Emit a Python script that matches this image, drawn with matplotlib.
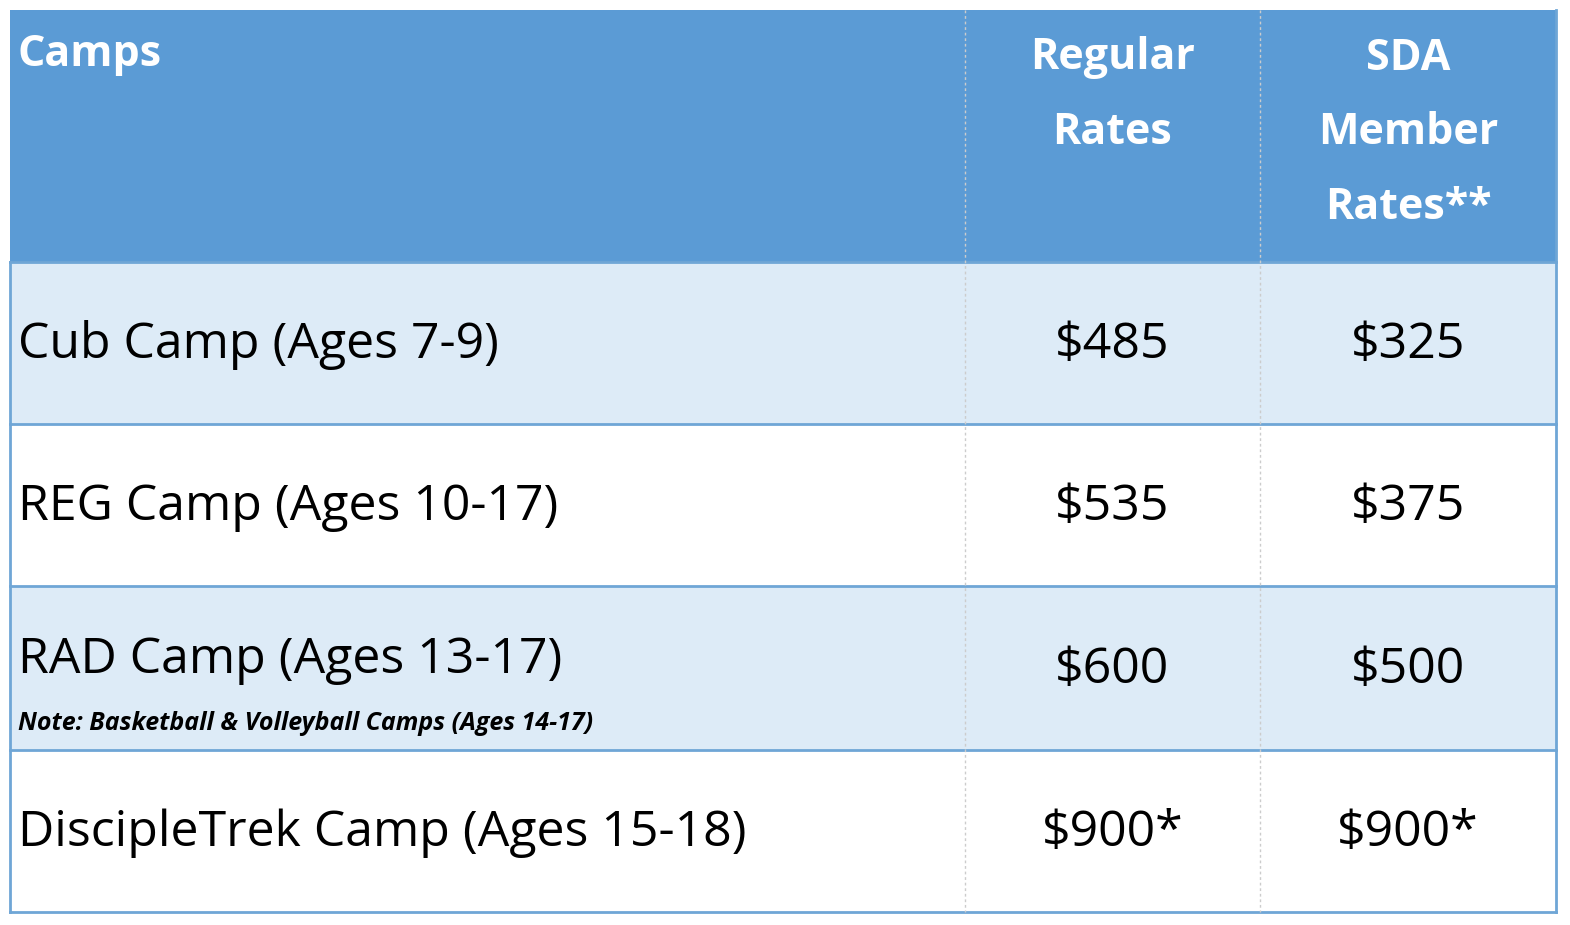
import matplotlib.pyplot as plt
from matplotlib.patches import Rectangle

plt.rcParams["font.family"] = ["Open Sans", "DejaVu Sans"]

headers = ["Camps", "Regular\nRates", "SDA\nMember\nRates**"]
camps = [
    "Cub Camp (Ages 7-9)",
    "REG Camp (Ages 10-17)",
    "RAD Camp (Ages 13-17)",
    "DiscipleTrek Camp (Ages 15-18)",
]
regular = ["$485", "$535", "$600", "$900*"]
sda = ["$325", "$375", "$500", "$900*"]
notes = ["", "", "Note: Basketball & Volleyball Camps (Ages 14-17)", ""]

HEAD_BLUE = "#5B9BD5"
LIGHT = "#DDEBF7"
LINE = "#6FA6D6"

fig = plt.figure(figsize=(15.7, 9.25), dpi=100)
ax = fig.add_axes([0, 0, 1, 1])
ax.set_xlim(0, 1570)
ax.set_ylim(925, 0)
ax.axis("off")

x0, x1, x2, x3 = 10, 965, 1260, 1556
row_edges = [10, 262, 424, 586, 750, 912]

# header
ax.add_patch(Rectangle((x0, row_edges[0]), x3 - x0, row_edges[1] - row_edges[0],
                       color=HEAD_BLUE, lw=0))
ax.text(18, 55, headers[0], color="white", fontsize=31, fontweight="bold",
        va="center", ha="left")
ax.text((x1 + x2) / 2, 95, headers[1], color="white", fontsize=31,
        fontweight="bold", va="center", ha="center", linespacing=1.95)
ax.text((x2 + x3) / 2, 133, headers[2], color="white", fontsize=31,
        fontweight="bold", va="center", ha="center", linespacing=1.95)

# body rows
for i, (camp, reg, mem, note) in enumerate(zip(camps, regular, sda, notes)):
    top, bot = row_edges[i + 1], row_edges[i + 2]
    fc = LIGHT if i % 2 == 0 else "white"
    ax.add_patch(Rectangle((x0, top), x3 - x0, bot - top, facecolor=fc, lw=0))
    ymid = (top + bot) / 2 + 2
    ty = ymid - 10 if note else ymid
    ax.text(18, ty, camp, fontsize=36, va="center", ha="left", color="black")
    if note:
        ax.text(18, bot - 26, note, fontsize=18, style="italic",
                fontweight="bold", va="center", ha="left", color="black")
    ax.text((x1 + x2) / 2, ymid, reg, fontsize=36, va="center", ha="center")
    ax.text((x2 + x3) / 2, ymid, mem, fontsize=36, va="center", ha="center")
    ax.plot([x0, x3], [bot, bot], color=LINE, lw=2)

ax.plot([x0, x3], [row_edges[1], row_edges[1]], color=LINE, lw=2)
for xv in (x1, x2):
    ax.plot([xv, xv], [row_edges[0], row_edges[-1]], color="#CCCCCC",
            lw=1, ls=(0, (2, 2)))
ax.plot([x0, x0], [row_edges[1], row_edges[-1]], color=LINE, lw=2)
ax.plot([x3, x3], [row_edges[0], row_edges[-1]], color=LINE, lw=2)

fig.savefig("out.png", dpi=100, facecolor="white")
